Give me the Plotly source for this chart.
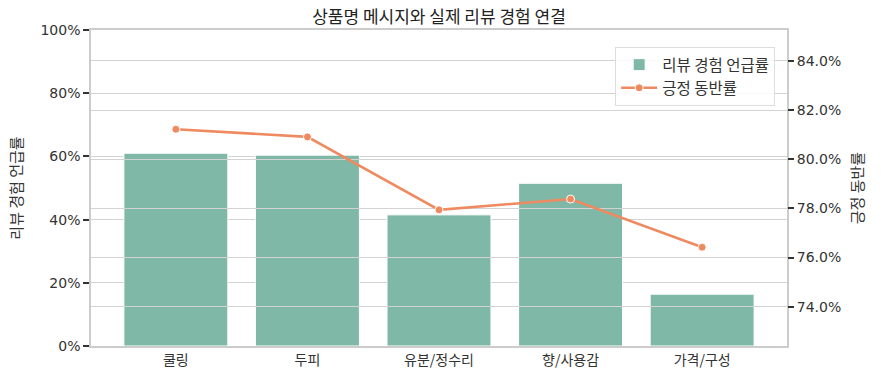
import plotly.graph_objects as go

categories = ["쿨링", "두피", "유분/정수리", "향/사용감", "가격/구성"]
mention_rate = [0.610, 0.604, 0.415, 0.515, 0.164]
positive_rate = [0.8122, 0.8091, 0.7794, 0.7838, 0.7642]
left_ticks = [0, 0.2, 0.4, 0.6, 0.8, 1.0]
right_ticks = [0.74, 0.76, 0.78, 0.80, 0.82, 0.84]

FONT = "Noto Sans CJK KR"
NUMFONT = "DejaVu Sans, Noto Sans CJK KR"
BAR_COLOR = "#80b8a7"
LINE_COLOR = "#ef8a60"
GRID = "#d3d3d3"
FRAME = "#cccccc"
TXT = "#333333"

fig = go.Figure()
fig.add_trace(go.Bar(
    x=categories, y=mention_rate, name="리뷰 경험 언급률",
    marker=dict(color=BAR_COLOR, line=dict(color="white", width=1)),
    width=0.79, xaxis="x", yaxis="y",
))
fig.add_trace(go.Scatter(
    x=categories, y=positive_rate, name="긍정 동반률", mode="lines+markers",
    line=dict(color=LINE_COLOR, width=2.6),
    marker=dict(color=LINE_COLOR, size=8, line=dict(color="white", width=1)),
    xaxis="x2", yaxis="y2",
))

xrange = [-0.645, 4.645]
fig.update_layout(
    width=884, height=383,
    margin=dict(l=91, r=97, t=30, b=37),
    paper_bgcolor="white", plot_bgcolor="rgba(0,0,0,0)",
    font=dict(family=FONT, size=14, color=TXT),
    title=dict(text="상품명 메시지와 실제 리뷰 경험 연결", x=0.5, xref="paper",
               xanchor="center", y=0.955, yanchor="middle",
               font=dict(family=FONT, size=17, color="#222222")),
    showlegend=True,
    legend=dict(x=0.983, y=0.946, xanchor="right", yanchor="top",
                bgcolor="rgba(255,255,255,0.85)", bordercolor="#dddddd", borderwidth=1,
                font=dict(family=FONT, size=15.5, color=TXT),
                itemwidth=36, tracegroupgap=0),
    xaxis=dict(domain=[0, 1], anchor="y", range=xrange, type="category",
               categoryorder="array", categoryarray=categories,
               showline=True, linecolor=FRAME, linewidth=1.5, mirror=True,
               ticks="", showgrid=False, tickfont=dict(family=FONT, size=14, color=TXT)),
    yaxis=dict(domain=[0, 1], anchor="x", range=[0, 1], tickvals=left_ticks,
               tickformat=".0%", showgrid=True, gridcolor=GRID, gridwidth=1,
               showline=True, linecolor=FRAME, linewidth=1.5, mirror=True,
               ticks="outside", ticklen=6, tickwidth=1.5, tickcolor=TXT,
               zeroline=False, tickfont=dict(family=NUMFONT, size=14, color=TXT),
               title=dict(text="리뷰 경험 언급률", font=dict(family=FONT, size=15, color=TXT), standoff=14)),
    xaxis2=dict(domain=[0, 1], anchor="y2", range=xrange, type="category",
                categoryorder="array", categoryarray=categories, visible=False),
    yaxis2=dict(domain=[0, 1], anchor="x2", side="right", range=[0.7240, 0.8526],
                tickvals=right_ticks, tickformat=".1%", showgrid=True,
                gridcolor=GRID, gridwidth=1, showline=False, zeroline=False,
                ticks="outside", ticklen=6, tickwidth=1.5, tickcolor=TXT,
                tickfont=dict(family=NUMFONT, size=14, color=TXT),
                title=dict(text="긍정 동반률", font=dict(family=FONT, size=15, color=TXT), standoff=12)),
)

fig.write_html("out.html")
